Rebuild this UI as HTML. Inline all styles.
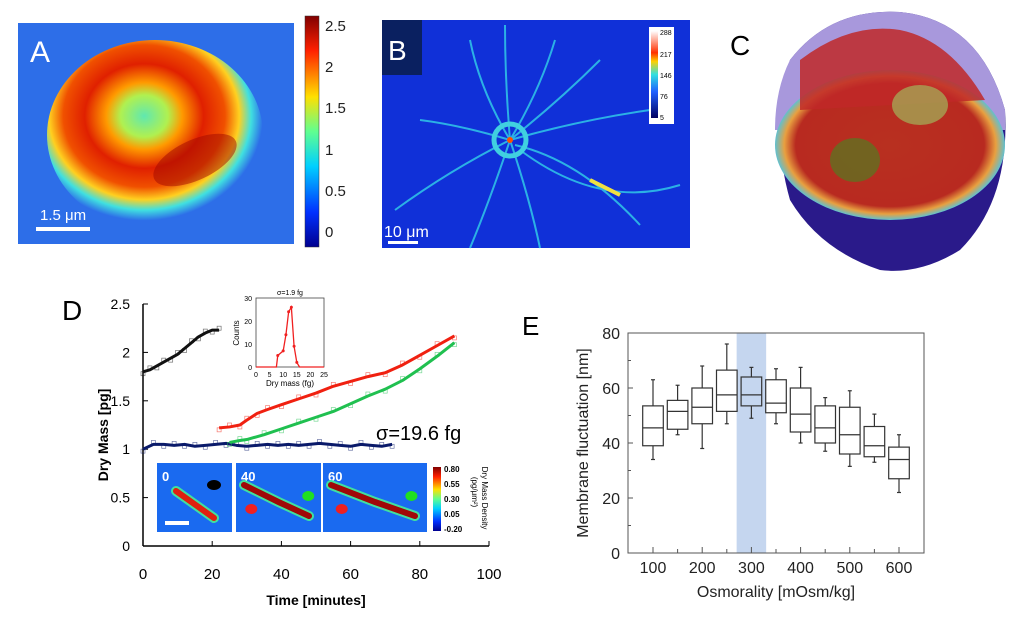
<!DOCTYPE html>
<html><head><meta charset="utf-8"><style>
body{margin:0;background:#fff;width:1024px;height:619px;overflow:hidden;font-family:"Liberation Sans",sans-serif}
svg text{font-family:"Liberation Sans",sans-serif}
</style></head><body>
<svg width="1024" height="619" viewBox="0 0 1024 619">
<defs>
<linearGradient id="jet" x1="0" y1="1" x2="0" y2="0">
<stop offset="0" stop-color="#00008f"/><stop offset="0.15" stop-color="#0030ff"/><stop offset="0.35" stop-color="#00d0ff"/><stop offset="0.5" stop-color="#60ff90"/><stop offset="0.65" stop-color="#ffe000"/><stop offset="0.85" stop-color="#ff2000"/><stop offset="1" stop-color="#800000"/></linearGradient>
<linearGradient id="jetB" x1="0" y1="1" x2="0" y2="0">
<stop offset="0" stop-color="#000060"/><stop offset="0.3" stop-color="#2060ff"/><stop offset="0.5" stop-color="#30e0e0"/><stop offset="0.65" stop-color="#ffd000"/><stop offset="0.75" stop-color="#ff3000"/><stop offset="1" stop-color="#ffffff"/></linearGradient>
<radialGradient id="ringA" cx="0.45" cy="0.4" r="0.55">
<stop offset="0" stop-color="#60e8b0"/><stop offset="0.2" stop-color="#b0f050"/><stop offset="0.32" stop-color="#ff9a00"/><stop offset="0.5" stop-color="#e02000"/><stop offset="0.68" stop-color="#f05000"/><stop offset="0.8" stop-color="#ffd020"/><stop offset="0.9" stop-color="#40e0e0"/><stop offset="1" stop-color="#2d6ee8"/></radialGradient>
<radialGradient id="sphC" cx="0.5" cy="0.5" r="0.5">
<stop offset="0" stop-color="#b83020"/><stop offset="0.82" stop-color="#b82a20"/><stop offset="0.92" stop-color="#e8a040"/><stop offset="1" stop-color="#60c0d0"/></radialGradient>
<clipPath id="clipA"><rect x="18" y="23" width="276" height="221"/></clipPath>
</defs>

<g>
<rect x="18" y="23" width="276" height="221" fill="#2d6ee8"/>
<g clip-path="url(#clipA)">
<ellipse cx="155" cy="135" rx="108" ry="95" fill="url(#ringA)"/>
<ellipse cx="195" cy="160" rx="45" ry="20" fill="#a00800" opacity="0.5" transform="rotate(-25 195 160)"/>
</g>
<text x="30" y="62" font-size="30" fill="#fff">A</text>
<text x="40" y="220" font-size="15" fill="#fff">1.5 μm</text>
<rect x="36" y="227" width="54" height="4" fill="#fff"/>
<rect x="305" y="16" width="14" height="231" fill="url(#jet)" stroke="#333" stroke-width="0.5"/>
<g font-size="15" fill="#222">
<text x="325" y="31">2.5</text><text x="325" y="72">2</text><text x="325" y="113">1.5</text><text x="325" y="155">1</text><text x="325" y="196">0.5</text><text x="325" y="237">0</text></g>
</g>

<g>
<rect x="382" y="20" width="308" height="228" fill="#1030d8"/>
<g stroke="#30c8e8" stroke-width="2" fill="none" opacity="0.85">
<path d="M510,140 Q480,90 470,40 M510,140 Q505,80 505,25 M510,140 Q540,90 555,40 M510,140 Q560,100 600,60 M510,140 Q460,125 420,120 M510,140 Q450,170 395,210 M510,140 Q490,200 470,248 M515,145 Q580,160 640,225 M510,140 Q530,200 540,248 M520,150 Q600,210 680,185 M510,140 Q580,120 650,110"/></g>
<circle cx="510" cy="140" r="16" fill="none" stroke="#40d0e0" stroke-width="5"/>
<circle cx="510" cy="140" r="3" fill="#ff5000"/>
<path d="M590,180 L620,195" stroke="#f0e040" stroke-width="4"/>
<rect x="382" y="20" width="40" height="55" fill="#0a2060"/>
<text x="388" y="60" font-size="28" fill="#fff">B</text>
<text x="384" y="237" font-size="16" fill="#fff">10 μm</text>
<rect x="388" y="241" width="30" height="3" fill="#fff"/>
<rect x="649" y="27" width="25" height="97" fill="#fff"/>
<rect x="651" y="31" width="7" height="87" fill="url(#jetB)"/>
<g font-size="7" fill="#000"><text x="660" y="35">288</text><text x="660" y="57">217</text><text x="660" y="78">146</text><text x="660" y="99">76</text><text x="660" y="120">5</text></g>
</g>

<g>
<path d="M790,60 Q830,8 900,12 Q980,20 1005,110 Q1010,200 960,250 Q920,275 880,270 Q820,250 790,200 Q770,130 790,60Z" fill="#2a1a8a"/>
<path d="M790,60 Q830,8 900,12 Q980,20 1005,110 L1005,130 L775,130 Q775,90 790,60Z" fill="#a898dc"/>
<ellipse cx="890" cy="145" rx="115" ry="75" fill="url(#sphC)"/>
<path d="M800,60 Q850,22 900,30 Q950,40 985,100 L800,110Z" fill="#c02828" opacity="0.85"/>
<ellipse cx="855" cy="160" rx="25" ry="22" fill="#607020" opacity="0.8"/>
<ellipse cx="920" cy="105" rx="28" ry="20" fill="#a0c060" opacity="0.65"/>
<text x="730" y="55" font-size="28" fill="#000">C</text>
</g>

<g id="pd">
<text x="62" y="320" font-size="28" fill="#000">D</text>
</g>

<g id="pe">
<text x="522" y="335" font-size="26" fill="#000">E</text>
</g>
</svg>
<script>
const NS='http://www.w3.org/2000/svg';
function mk(p,t,a,txt){const e=document.createElementNS(NS,t);for(const k in a)e.setAttribute(k,a[k]);if(txt!=null)e.textContent=txt;p.appendChild(e);return e;}

const dXTicks=[0,20,40,60,80,100];
const dYTicks=[0,0.5,1,1.5,2,2.5];
const blackT=[0,2,4,6,8,10,12,14,16,18,20,22];
const blackV=[1.8,1.82,1.86,1.9,1.94,1.98,2.04,2.1,2.16,2.2,2.23,2.23];
const redT=[22,25,28,30,33,36,40,45,50,55,60,65,70,75,80,85,90];
const redV=[1.22,1.23,1.25,1.3,1.37,1.41,1.46,1.52,1.58,1.65,1.7,1.75,1.79,1.87,1.97,2.07,2.17];
const greenT=[25,28,30,35,40,45,50,55,60,65,70,75,80,85,90];
const greenV=[1.07,1.09,1.1,1.15,1.21,1.27,1.33,1.39,1.47,1.55,1.62,1.71,1.83,1.96,2.1];
const navyT=[0,3,6,9,12,15,18,21,24,27,30,33,36,39,42,45,48,51,54,57,60,63,66,69,72];
const navyV=[1.0,1.05,1.05,1.04,1.05,1.03,1.04,1.05,1.06,1.04,1.03,1.04,1.05,1.04,1.05,1.04,1.05,1.06,1.05,1.04,1.03,1.05,1.04,1.03,1.05];
const histX=[0,7.5,8,10,11,12,13,14,15,16,25];
const histY=[0,0,5,7,14,24,26,9,2,0,0];
const histXTicks=[0,5,10,15,20,25];
const histYTicks=[0,10,20,30];
const cbLabels=['0.80','0.55','0.30','0.05','-0.20'];

const pd=document.getElementById('pd');
const dx=v=>143+v*3.46, dy=v=>546-v*96.8;
mk(pd,'line',{x1:143,y1:304,x2:143,y2:546,stroke:'#000','stroke-width':1.5});
mk(pd,'line',{x1:143,y1:546,x2:489,y2:546,stroke:'#000','stroke-width':1.5});
dYTicks.forEach(v=>{mk(pd,'line',{x1:143,y1:dy(v),x2:148,y2:dy(v),stroke:'#000'});const t=mk(pd,'text',{x:130,y:dy(v)+5,'font-size':14,'text-anchor':'end'},String(v));});
dXTicks.forEach(v=>{mk(pd,'line',{x1:dx(v),y1:541,x2:dx(v),y2:546,stroke:'#000'});const t=mk(pd,'text',{x:dx(v),y:579,'font-size':15,'text-anchor':'middle'},String(v));});
let tt=mk(pd,'text',{x:316,y:605,'font-size':14,'font-weight':'bold','text-anchor':'middle'},'Time [minutes]');

tt=mk(pd,'text',{x:0,y:0,'font-size':14,'font-weight':'bold','text-anchor':'middle',transform:'translate(108,435) rotate(-90)'},'Dry Mass [pg]');

function series(T,V,col,name){
  T.forEach((t,i)=>{const r=mk(pd,'rect',{x:dx(t)-2,y:dy(V[i]+(i%2?0.02:-0.02))-2,width:4,height:4,fill:'none',stroke:col,'stroke-width':0.7,opacity:0.6});});
  const p=mk(pd,'polyline',{points:T.map((t,i)=>dx(t)+','+dy(V[i])).join(' '),fill:'none',stroke:col,'stroke-width':3,'stroke-linejoin':'round'});
  
}
series(navyT,navyV,'#0a1a6a','navy-series');
series(greenT,greenV,'#20c050','green-series');
series(redT,redV,'#f02010','red-series');
series(blackT,blackV,'#111','black-series');
tt=mk(pd,'text',{x:376,y:440,'font-size':20},'σ=19.6 fg');


const hx=v=>256+v*2.72, hy=v=>367-v*2.3;
const hb=mk(pd,'rect',{x:256,y:298,width:68,height:69,fill:'#fff',stroke:'#444','stroke-width':0.8});

histXTicks.forEach(v=>{const t=mk(pd,'text',{x:hx(v),y:377,'font-size':7,'text-anchor':'middle'},String(v));});
histYTicks.forEach(v=>{const t=mk(pd,'text',{x:252,y:hy(v)+3,'font-size':7,'text-anchor':'end'},String(v));});
tt=mk(pd,'text',{x:290,y:386,'font-size':8,'text-anchor':'middle'},'Dry mass (fg)');
tt=mk(pd,'text',{x:0,y:0,'font-size':8,'text-anchor':'middle',transform:'translate(239,333) rotate(-90)'},'Counts');
tt=mk(pd,'text',{x:290,y:295,'font-size':7,'text-anchor':'middle'},'σ=1.9 fg');
const hp=mk(pd,'polyline',{points:histX.map((x,i)=>hx(x)+','+hy(histY[i])).join(' '),fill:'none',stroke:'#f02020','stroke-width':1.3});

histX.forEach((x,i)=>{if(histY[i]>0){const c=mk(pd,'circle',{cx:hx(x),cy:hy(histY[i]),r:1.5,fill:'#f02020'});}});

const frames=[[157,232,'0'],[236,321,'40'],[323,427,'60']];
frames.forEach((f,i)=>{
  const g=mk(pd,'g',{});
  mk(g,'rect',{x:f[0],y:463,width:f[1]-f[0],height:69,fill:'#1a6af0'});
  mk(g,'text',{x:f[0]+5,y:481,'font-size':13,'font-weight':'bold',fill:'#fff'},f[2]);
  const w=f[1]-f[0];
  if(i===0){
    mk(g,'line',{x1:f[0]+19,y1:491,x2:f[0]+57,y2:518,stroke:'#40e0a0','stroke-width':10,'stroke-linecap':'round'});
    mk(g,'line',{x1:f[0]+19,y1:491,x2:f[0]+57,y2:518,stroke:'#e02010','stroke-width':6,'stroke-linecap':'round'});
    mk(g,'ellipse',{cx:f[0]+57,cy:485,rx:7,ry:5,fill:'#000'});
    mk(g,'rect',{x:f[0]+8,y:521,width:24,height:4,fill:'#fff'});
  } else {
    mk(g,'polyline',{points:`${f[0]+8},485 ${f[0]+w*0.5},502 ${f[0]+w-12},516`,fill:'none',stroke:'#40e0a0','stroke-width':10,'stroke-linecap':'round'});
    mk(g,'polyline',{points:`${f[0]+8},485 ${f[0]+w*0.5},502 ${f[0]+w-12},516`,fill:'none',stroke:'#a00808','stroke-width':6,'stroke-linecap':'round'});
    mk(g,'ellipse',{cx:f[0]+w*0.85,cy:496,rx:6,ry:5,fill:'#20e020'});
    mk(g,'ellipse',{cx:f[0]+w*0.18,cy:509,rx:6,ry:5,fill:'#f02020'});
  }
});
const cb=mk(pd,'rect',{x:433,y:467,width:8,height:64,fill:'url(#jet)'});
cbLabels.forEach((l,i)=>{const t=mk(pd,'text',{x:444,y:472+i*15,'font-size':8,'font-weight':'bold'},l);});
tt=mk(pd,'text',{x:0,y:0,'font-size':8,'text-anchor':'middle',transform:'translate(482,498) rotate(90)'},'Dry Mass Density');
tt=mk(pd,'text',{x:0,y:0,'font-size':8,'text-anchor':'middle',transform:'translate(472,492) rotate(90)'},'(pg/μm²)');

const eCats=[100,150,200,250,300,350,400,450,500,550,600];
const eWhiskLo=[34,43,38,47,49,47,40,37,31.5,33,22];
const eQ1=[39,45,47,51.5,53.5,51,44,40,36,35,27];
const eMed=[45.5,51.5,53,57.5,57.5,54.5,50.5,45.5,43,39,34];
const eQ3=[53.5,55.5,60,66.5,64,63,60,53.5,53,46,38.5];
const eWhiskHi=[63,61,68,76,67.5,67,67.5,56.5,59,50.5,43];
const eXTicks=[100,200,300,400,500,600];
const eYTicks=[0,20,40,60,80];
const eHighlight=[270,330];

const pe=document.getElementById('pe');
const ex=v=>653+(v-100)*0.492, ey=v=>553-v*2.75;
const hl=mk(pe,'rect',{x:ex(eHighlight[0]),y:ey(80),width:ex(eHighlight[1])-ex(eHighlight[0]),height:ey(0)-ey(80),fill:'#c5d6ef'});

mk(pe,'rect',{x:628,y:ey(80),width:296,height:ey(0)-ey(80),fill:'none',stroke:'#555','stroke-width':1});
for(let v=0;v<=80;v+=10){mk(pe,'line',{x1:628,y1:ey(v),x2:v%20?631:633,y2:ey(v),stroke:'#555'});}
eYTicks.forEach(v=>{const t=mk(pe,'text',{x:620,y:ey(v)+6,'font-size':16,'text-anchor':'end',fill:'#222'},String(v));});
eCats.forEach(v=>mk(pe,'line',{x1:ex(v),y1:553,x2:ex(v),y2:v%100?549:547,stroke:'#555'}));
eXTicks.forEach(v=>{const t=mk(pe,'text',{x:ex(v),y:573,'font-size':16,'text-anchor':'middle',fill:'#222'},String(v));});
tt=mk(pe,'text',{x:776,y:597,'font-size':16,'text-anchor':'middle',fill:'#222'},'Osmorality [mOsm/kg]');
tt=mk(pe,'text',{x:0,y:0,'font-size':16,'text-anchor':'middle',fill:'#222',transform:'translate(588,443) rotate(-90)'},'Membrane fluctuation [nm]');
eCats.forEach((c,i)=>{
  const x=ex(c),hw=10.3;
  const g=mk(pe,'g',{stroke:'#333','stroke-width':1.2,fill:'none'});
  
  mk(g,'line',{x1:x,y1:ey(eWhiskHi[i]),x2:x,y2:ey(eQ3[i])});
  mk(g,'line',{x1:x,y1:ey(eQ1[i]),x2:x,y2:ey(eWhiskLo[i])});
  mk(g,'line',{x1:x-2,y1:ey(eWhiskHi[i]),x2:x+2,y2:ey(eWhiskHi[i])});
  mk(g,'line',{x1:x-2,y1:ey(eWhiskLo[i]),x2:x+2,y2:ey(eWhiskLo[i])});
  mk(g,'rect',{x:x-hw,y:ey(eQ3[i]),width:hw*2,height:ey(eQ1[i])-ey(eQ3[i])});
  mk(g,'line',{x1:x-hw,y1:ey(eMed[i]),x2:x+hw,y2:ey(eMed[i])});
});
</script>
</body></html>
